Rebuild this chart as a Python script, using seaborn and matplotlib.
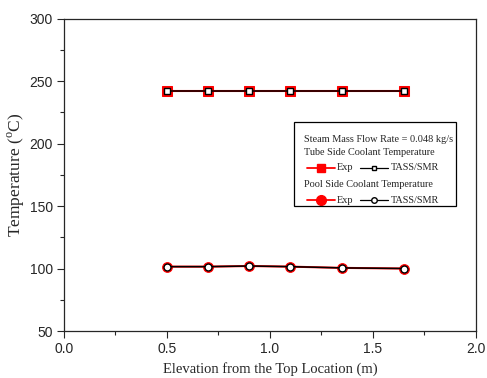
import numpy as np
import pandas as pd
import seaborn as sns
import matplotlib.pyplot as plt
from matplotlib.lines import Line2D
from matplotlib.patches import Rectangle
from matplotlib.ticker import MultipleLocator

# data
elevation = [0.5, 0.7, 0.9, 1.1, 1.35, 1.65]
tube_exp = [242.0, 242.0, 242.0, 242.0, 242.0, 242.0]
tube_tass = [242.0, 242.0, 242.0, 242.0, 242.0, 242.0]
pool_exp = [101.5, 101.5, 102.0, 101.5, 100.5, 100.0]
pool_tass = [101.5, 101.5, 102.0, 101.5, 100.5, 100.0]

df = pd.DataFrame({'elev': elevation, 'tube_exp': tube_exp, 'tube_tass': tube_tass,
                   'pool_exp': pool_exp, 'pool_tass': pool_tass})

sns.set_style('ticks')
serif = 'Liberation Serif'
sans = 'Liberation Sans'

fig = plt.figure(figsize=(4.87, 3.78), dpi=100)
ax = fig.add_axes([0.1314, 0.1243, 0.8456, 0.8267])

# Exp (red filled) first, model (black open) on top
sns.lineplot(data=df, x='elev', y='tube_exp', ax=ax, color='red', lw=1.5,
             marker='s', markersize=6.5, markeredgecolor='red', markerfacecolor='red')
sns.lineplot(data=df, x='elev', y='tube_tass', ax=ax, color='black', lw=1.1,
             marker='s', markersize=4.5, markeredgecolor='black', markerfacecolor='white',
             markeredgewidth=1.0)
sns.lineplot(data=df, x='elev', y='pool_exp', ax=ax, color='red', lw=1.5,
             marker='o', markersize=7, markeredgecolor='red', markerfacecolor='red')
sns.lineplot(data=df, x='elev', y='pool_tass', ax=ax, color='black', lw=1.1,
             marker='o', markersize=5, markeredgecolor='black', markerfacecolor='white',
             markeredgewidth=1.0)

ax.set_xlim(0, 2.0)
ax.set_ylim(50, 300)
ax.xaxis.set_major_locator(MultipleLocator(0.5))
ax.xaxis.set_minor_locator(MultipleLocator(0.25))
ax.yaxis.set_major_locator(MultipleLocator(50))
ax.yaxis.set_minor_locator(MultipleLocator(25))
ax.tick_params(which='major', direction='out', length=5, width=0.8, labelsize=10, pad=3)
ax.tick_params(which='minor', direction='out', length=3, width=0.8)
for lab in ax.get_xticklabels() + ax.get_yticklabels():
    lab.set_fontfamily(sans)
for s in ax.spines.values():
    s.set_visible(True)
    s.set_linewidth(0.9)

ax.set_xlabel('Elevation from the Top Location (m)', fontfamily=serif, fontsize=10.5, labelpad=4)
ax.set_ylabel('Temperature ($^\\mathregular{o}$C)', fontfamily=serif, fontsize=12.5, labelpad=2)

# legend box drawn by hand (rows spanning full width like the original)
tr = ax.transAxes
ax.add_patch(Rectangle((0.558, 0.400), 0.393, 0.268, transform=tr, fill=False,
                       edgecolor='black', lw=0.9, zorder=5))
fs = 7.4
ax.text(0.583, 0.614, 'Steam Mass Flow Rate = 0.048 kg/s', transform=tr,
        fontfamily=serif, fontsize=fs, va='center')
ax.text(0.583, 0.570, 'Tube Side Coolant Temperature', transform=tr,
        fontfamily=serif, fontsize=fs, va='center')
ax.text(0.583, 0.470, 'Pool Side Coolant Temperature', transform=tr,
        fontfamily=serif, fontsize=fs, va='center')
for yrow, mk, ms_exp, ms_tass in [(0.523, 's', 6, 3.5), (0.419, 'o', 7, 4)]:
    ax.add_line(Line2D([0.589, 0.658], [yrow, yrow], transform=tr, color='red', lw=1.3))
    ax.add_line(Line2D([0.624], [yrow], transform=tr, marker=mk, ms=ms_exp,
                       color='red', ls='none'))
    ax.text(0.663, yrow, 'Exp', transform=tr, fontfamily=serif, fontsize=fs, va='center')
    ax.add_line(Line2D([0.720, 0.786], [yrow, yrow], transform=tr, color='black', lw=0.9))
    ax.add_line(Line2D([0.753], [yrow], transform=tr, marker=mk, ms=ms_tass,
                       markeredgecolor='black', markerfacecolor='white', ls='none'))
    ax.text(0.794, yrow, 'TASS/SMR', transform=tr, fontfamily=serif, fontsize=fs, va='center')

fig.savefig('out.png', dpi=100)
